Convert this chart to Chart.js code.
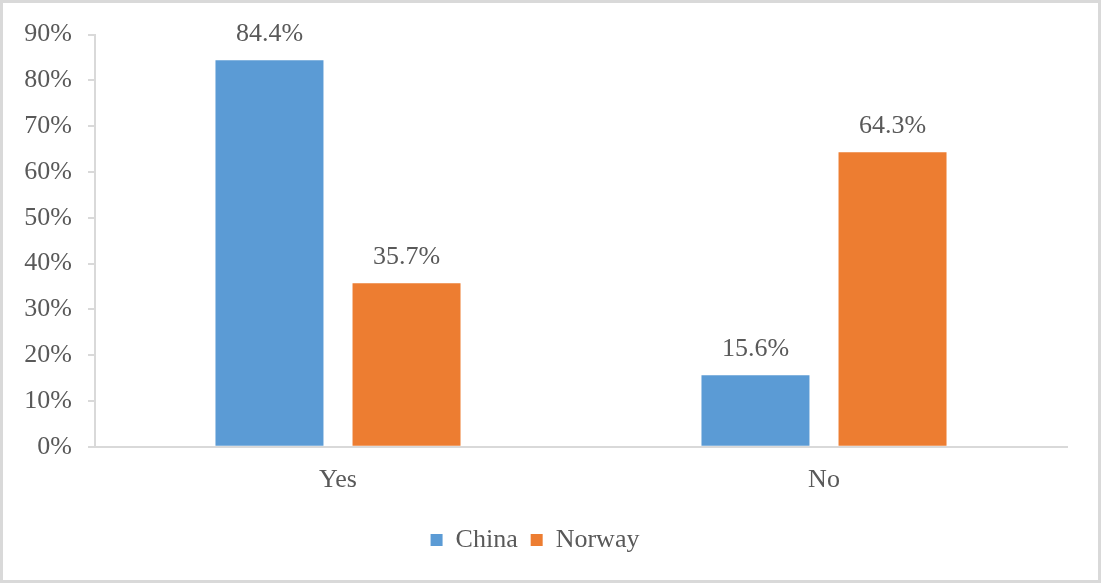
<!DOCTYPE html>
<html>
<head>
<meta charset="utf-8">
<script src="https://cdn.jsdelivr.net/npm/chart.js@4/dist/chart.umd.min.js"></script>
<style>
  html, body { margin: 0; padding: 0; background: #fff; }
  #wrap { width: 1101px; height: 583px; box-sizing: border-box; border: 3px solid #d9d9d9; background: #fff; }
  #chart { display: block; }
</style>
</head>
<body>
<div id="wrap"><canvas id="chart" width="1095" height="577"></canvas></div>
<script>
// === datos ===
const categorias = ['Yes', 'No'];
const china = [84.4, 15.6];
const norway = [35.7, 64.3];
const yMax = 90;
const yStep = 10;

const textColor = '#595959';
const lineColor = '#d9d9d9';
const fuente = '"Liberation Serif", "Times New Roman", serif';

// etiquetas encima de cada barra
const etiquetasPlugin = {
  id: 'etiquetas',
  afterDatasetsDraw(chart) {
    const ctx = chart.ctx;
    ctx.save();
    ctx.font = '26px ' + fuente;
    ctx.fillStyle = textColor;
    ctx.textAlign = 'center';
    ctx.textBaseline = 'alphabetic';
    chart.data.datasets.forEach((ds, i) => {
      chart.getDatasetMeta(i).data.forEach((bar, j) => {
        ctx.fillText(ds.data[j].toFixed(1) + '%', bar.x, bar.y - 19);
      });
    });
    ctx.restore();
  }
};

const ctx = document.getElementById('chart').getContext('2d');
new Chart(ctx, {
  type: 'bar',
  data: {
    labels: categorias,
    datasets: [
      { label: 'China', data: china, backgroundColor: '#5b9bd5' },
      { label: 'Norway', data: norway, backgroundColor: '#ed7d31' }
    ]
  },
  options: {
    responsive: false,
    animation: false,
    categoryPercentage: 0.564,
    barPercentage: 0.788,
    layout: { padding: { top: 31, right: 31, left: 0, bottom: 17 } },
    plugins: {
      legend: {
        position: 'bottom',
        labels: {
          boxWidth: 12,
          boxHeight: 12,
          padding: 13,
          color: textColor,
          font: { family: fuente, size: 26 }
        }
      },
      tooltip: { enabled: false }
    },
    scales: {
      x: {
        grid: { display: false, drawTicks: false },
        border: { display: true, color: lineColor, width: 2 },
        ticks: { color: textColor, padding: 18, font: { family: fuente, size: 26 } }
      },
      y: {
        min: 0,
        max: yMax,
        afterFit(scale) { scale.width = 92; },
        grid: { drawOnChartArea: false, drawTicks: true, tickLength: 7, color: lineColor, lineWidth: 2 },
        border: { display: true, color: lineColor, width: 2 },
        ticks: {
          stepSize: yStep,
          padding: 16,
          color: textColor,
          font: { family: fuente, size: 26 },
          callback: v => v + '%'
        }
      }
    }
  },
  plugins: [etiquetasPlugin]
});
</script>
</body>
</html>
